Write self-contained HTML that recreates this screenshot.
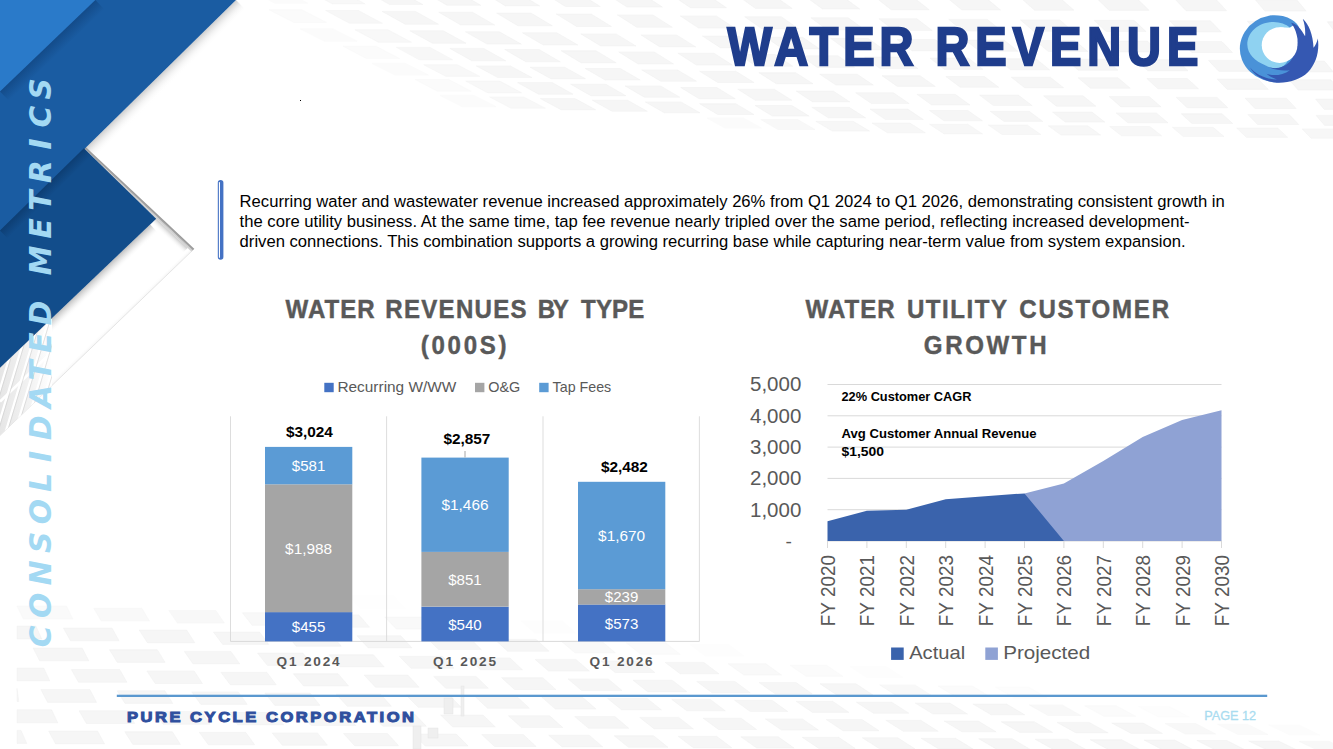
<!DOCTYPE html>
<html lang="en"><head><meta charset="utf-8"><title>Water Revenue</title>
<style>
html,body{margin:0;padding:0;background:#fff;}
body{width:1333px;height:749px;overflow:hidden;position:relative;font-family:'Liberation Sans', sans-serif;}
svg{position:absolute;left:0;top:0;display:block;}
svg text{font-family:'Liberation Sans', sans-serif;}
.para{position:absolute;left:239.6px;top:191.6px;width:1030px;font-size:16.64px;line-height:20.1px;color:#000;white-space:nowrap;margin:0;}
</style></head><body>
<svg width="1333" height="749" viewBox="0 0 1333 749">
<rect width="1333" height="749" fill="#fff"/>
<g fill="#f6f6f6" stroke="#ededed" stroke-width="0.4">
<polygon points="250.0,-9.9 282.8,-9.9 307.8,3.2 275.0,3.2" opacity="0.35"/>
<polygon points="308.2,-9.2 341.0,-9.2 365.2,3.9 332.4,3.9" opacity="0.77"/>
<polygon points="366.4,-8.5 399.6,-8.5 422.9,4.6 389.7,4.6" opacity="1.00"/>
<polygon points="424.6,-7.8 458.4,-7.8 480.8,5.3 447.0,5.3" opacity="1.00"/>
<polygon points="483.9,-7.1 518.2,-7.1 539.7,5.9 505.4,5.9" opacity="1.00"/>
<polygon points="544.8,-6.4 579.7,-6.4 600.3,6.5 565.4,6.5" opacity="1.00"/>
<polygon points="607.5,-5.6 642.9,-5.6 662.5,7.1 627.0,7.1" opacity="1.00"/>
<polygon points="671.8,-4.8 707.9,-4.8 726.5,7.7 690.4,7.7" opacity="1.00"/>
<polygon points="738.0,-4.0 774.6,-4.0 792.2,8.4 755.5,8.4" opacity="1.00"/>
<polygon points="805.9,-3.2 843.2,-3.2 859.7,9.0 822.5,9.0" opacity="1.00"/>
<polygon points="875.8,-2.4 913.7,-2.4 929.2,9.7 891.2,9.7" opacity="1.00"/>
<polygon points="947.6,-1.9 986.2,-1.9 1000.5,10.0 961.9,10.0" opacity="1.00"/>
<polygon points="1021.4,-1.5 1060.6,-1.5 1073.9,10.2 1034.6,10.2" opacity="1.00"/>
<polygon points="1097.2,-1.2 1137.2,-1.2 1149.2,10.4 1109.2,10.4" opacity="1.00"/>
<polygon points="1175.1,-0.8 1215.8,-0.8 1226.6,10.7 1186.0,10.7" opacity="1.00"/>
<polygon points="1255.2,-0.4 1296.6,-0.4 1306.2,11.1 1264.8,11.1" opacity="1.00"/>
<polygon points="1337.5,-0.0 1379.7,-0.0 1388.0,11.5 1345.8,11.5" opacity="1.00"/>
<polygon points="269.0,9.7 301.8,9.7 326.6,22.5 293.8,22.5" opacity="0.40"/>
<polygon points="325.6,10.5 358.4,10.5 382.3,23.3 349.5,23.3" opacity="0.80"/>
<polygon points="382.1,11.4 415.5,11.4 438.5,24.2 405.1,24.2" opacity="1.00"/>
<polygon points="438.7,12.2 472.5,12.2 494.7,25.0 460.8,25.0" opacity="1.00"/>
<polygon points="496.6,13.1 531.1,13.1 552.4,25.8 517.9,25.8" opacity="1.00"/>
<polygon points="556.2,14.0 591.2,14.0 611.5,26.5 576.6,26.5" opacity="1.00"/>
<polygon points="617.4,14.9 652.9,14.9 672.3,27.3 636.8,27.3" opacity="1.00"/>
<polygon points="680.2,15.9 716.3,15.9 734.7,28.1 698.6,28.1" opacity="1.00"/>
<polygon points="744.7,16.8 781.4,16.8 798.8,28.9 762.1,28.9" opacity="1.00"/>
<polygon points="810.9,17.8 848.2,17.8 864.7,29.8 827.3,29.8" opacity="1.00"/>
<polygon points="878.9,18.8 916.9,18.8 932.3,30.6 894.3,30.6" opacity="1.00"/>
<polygon points="948.7,19.4 987.3,19.4 1001.7,31.1 963.1,31.1" opacity="1.00"/>
<polygon points="1020.5,19.9 1059.7,19.9 1072.9,31.3 1033.7,31.3" opacity="1.00"/>
<polygon points="1094.1,20.3 1134.1,20.3 1146.1,31.6 1106.2,31.6" opacity="1.00"/>
<polygon points="1169.7,20.8 1210.4,20.8 1221.3,32.0 1180.7,32.0" opacity="1.00"/>
<polygon points="1247.4,21.2 1288.8,21.2 1298.5,32.5 1257.1,32.5" opacity="1.00"/>
<polygon points="1327.2,21.7 1369.3,21.7 1377.8,33.0 1335.7,33.0" opacity="1.00"/>
<polygon points="300.0,28.8 332.8,28.8 357.1,41.2 324.3,41.2" opacity="0.35"/>
<polygon points="354.9,29.8 388.0,29.8 411.5,42.2 378.4,42.2" opacity="0.74"/>
<polygon points="409.8,30.8 443.4,30.8 466.1,43.2 432.4,43.2" opacity="1.00"/>
<polygon points="465.4,31.8 499.5,31.8 521.3,44.1 487.1,44.1" opacity="1.00"/>
<polygon points="522.4,32.8 557.0,32.8 577.9,45.0 543.2,45.0" opacity="1.00"/>
<polygon points="580.8,33.9 616.1,33.9 636.0,46.0 600.8,46.0" opacity="1.00"/>
<polygon points="640.9,34.9 676.6,34.9 695.7,46.9 659.9,46.9" opacity="1.00"/>
<polygon points="702.4,36.0 738.8,36.0 756.9,47.9 720.6,47.9" opacity="1.00"/>
<polygon points="765.6,37.2 802.6,37.2 819.7,48.9 782.8,48.9" opacity="1.00"/>
<polygon points="830.5,38.3 868.0,38.3 884.1,49.9 846.6,49.9" opacity="1.00"/>
<polygon points="897.0,39.5 935.2,39.5 950.3,50.9 912.2,50.9" opacity="1.00"/>
<polygon points="965.3,40.1 1004.1,40.1 1018.1,51.3 979.4,51.3" opacity="1.00"/>
<polygon points="1035.4,40.6 1074.8,40.6 1087.8,51.6 1048.4,51.6" opacity="1.00"/>
<polygon points="1107.3,41.1 1147.3,41.1 1159.2,52.0 1119.1,52.0" opacity="1.00"/>
<polygon points="1181.0,41.6 1221.8,41.6 1232.5,52.5 1191.8,52.5" opacity="1.00"/>
<polygon points="1256.7,42.2 1298.2,42.2 1307.8,53.1 1266.3,53.1" opacity="1.00"/>
<polygon points="1334.4,42.7 1376.6,42.7 1385.0,53.6 1342.8,53.6" opacity="1.00"/>
<polygon points="343.0,46.2 376.0,46.2 399.7,58.6 366.6,58.6" opacity="0.40"/>
<polygon points="396.3,47.3 429.8,47.3 452.6,59.7 419.1,59.7" opacity="0.78"/>
<polygon points="449.8,48.4 483.8,48.4 505.8,60.8 471.8,60.8" opacity="1.00"/>
<polygon points="504.7,49.5 539.2,49.5 560.3,61.8 525.8,61.8" opacity="1.00"/>
<polygon points="561.0,50.7 596.0,50.7 616.3,62.9 581.3,62.9" opacity="1.00"/>
<polygon points="618.7,51.9 654.2,51.9 673.6,64.0 638.1,64.0" opacity="1.00"/>
<polygon points="677.9,53.2 714.0,53.2 732.5,65.1 696.4,65.1" opacity="1.00"/>
<polygon points="738.5,54.5 775.2,54.5 792.8,66.2 756.1,66.2" opacity="1.00"/>
<polygon points="800.7,55.8 838.0,55.8 854.6,67.4 817.3,67.4" opacity="1.00"/>
<polygon points="864.5,57.1 902.4,57.1 918.0,68.6 880.2,68.6" opacity="1.00"/>
<polygon points="929.9,58.1 968.4,58.1 983.0,69.4 944.5,69.4" opacity="1.00"/>
<polygon points="997.0,58.7 1036.0,58.7 1049.6,69.8 1010.6,69.8" opacity="1.00"/>
<polygon points="1065.8,59.2 1105.4,59.2 1118.0,70.2 1078.3,70.2" opacity="1.00"/>
<polygon points="1136.3,59.8 1176.6,59.8 1188.0,70.7 1147.7,70.7" opacity="1.00"/>
<polygon points="1208.5,60.4 1249.5,60.4 1259.9,71.4 1218.9,71.4" opacity="1.00"/>
<polygon points="1282.7,61.1 1324.4,61.1 1333.5,72.0 1291.9,72.0" opacity="1.00"/>
<polygon points="1358.7,61.7 1401.1,61.7 1409.1,72.6 1366.7,72.6" opacity="1.00"/>
<polygon points="372.0,63.4 405.3,63.4 428.5,75.1 395.2,75.1" opacity="0.35"/>
<polygon points="423.6,64.7 457.4,64.7 479.8,76.4 446.0,76.4" opacity="0.72"/>
<polygon points="476.2,65.9 510.4,65.9 532.0,77.6 497.8,77.6" opacity="1.00"/>
<polygon points="530.0,67.2 564.7,67.2 585.5,78.7 550.8,78.7" opacity="1.00"/>
<polygon points="585.2,68.5 620.4,68.5 640.3,80.0 605.1,80.0" opacity="1.00"/>
<polygon points="641.7,69.9 677.5,69.9 696.5,81.2 660.7,81.2" opacity="1.00"/>
<polygon points="699.6,71.3 735.9,71.3 754.1,82.5 717.7,82.5" opacity="1.00"/>
<polygon points="758.9,72.7 795.8,72.7 813.0,83.7 776.2,83.7" opacity="1.00"/>
<polygon points="819.7,74.2 857.1,74.2 873.4,85.1 836.0,85.1" opacity="1.00"/>
<polygon points="882.0,75.7 920.0,75.7 935.3,86.4 897.3,86.4" opacity="1.00"/>
<polygon points="945.8,76.5 984.4,76.5 998.7,87.2 960.2,87.2" opacity="1.00"/>
<polygon points="1011.2,77.2 1050.3,77.2 1063.7,87.7 1024.5,87.7" opacity="1.00"/>
<polygon points="1078.1,77.8 1117.9,77.8 1130.3,88.2 1090.5,88.2" opacity="1.00"/>
<polygon points="1146.8,78.5 1187.2,78.5 1198.5,88.8 1158.0,88.8" opacity="1.00"/>
<polygon points="1217.1,79.1 1258.1,79.1 1268.3,89.4 1227.3,89.4" opacity="1.00"/>
<polygon points="1289.1,79.8 1330.8,79.8 1339.9,90.1 1298.2,90.1" opacity="1.00"/>
<polygon points="1362.9,80.5 1405.3,80.5 1413.3,90.8 1370.9,90.8" opacity="1.00"/>
<polygon points="415.0,79.5 448.7,79.5 471.2,91.2 437.5,91.2" opacity="0.40"/>
<polygon points="465.7,81.1 499.8,81.1 521.6,92.7 487.4,92.7" opacity="0.76"/>
<polygon points="517.5,82.6 552.2,82.6 573.1,94.2 538.5,94.2" opacity="1.00"/>
<polygon points="570.6,84.2 605.8,84.2 625.9,95.7 590.8,95.7" opacity="1.00"/>
<polygon points="625.0,85.9 660.6,85.9 679.9,97.2 644.3,97.2" opacity="1.00"/>
<polygon points="680.7,87.5 716.8,87.5 735.3,98.7 699.1,98.7" opacity="1.00"/>
<polygon points="737.7,89.2 774.3,89.2 791.9,100.3 755.2,100.3" opacity="1.00"/>
<polygon points="796.0,91.0 833.2,91.0 849.9,101.9 812.7,101.9" opacity="1.00"/>
<polygon points="855.7,92.8 893.5,92.8 909.2,103.6 871.5,103.6" opacity="1.00"/>
<polygon points="916.9,94.3 955.2,94.3 970.0,105.0 931.7,105.0" opacity="1.00"/>
<polygon points="979.5,95.1 1018.3,95.1 1032.2,105.6 993.3,105.6" opacity="1.00"/>
<polygon points="1043.5,95.8 1083.0,95.8 1095.9,106.2 1056.4,106.2" opacity="1.00"/>
<polygon points="1109.2,96.6 1149.2,96.6 1161.1,106.9 1121.0,106.9" opacity="1.00"/>
<polygon points="1176.3,97.4 1217.0,97.4 1227.8,107.7 1187.1,107.7" opacity="1.00"/>
<polygon points="1245.1,98.2 1286.4,98.2 1296.2,108.5 1254.9,108.5" opacity="1.00"/>
<polygon points="1315.5,99.1 1357.5,99.1 1366.2,109.4 1324.2,109.4" opacity="1.00"/>
<polygon points="440.0,95.4 473.9,95.4 496.1,106.7 462.2,106.7" opacity="0.35"/>
<polygon points="489.6,97.0 523.9,97.0 545.3,108.2 511.0,108.2" opacity="0.70"/>
<polygon points="540.3,98.6 575.1,98.6 595.7,109.7 560.9,109.7" opacity="1.00"/>
<polygon points="592.2,100.2 627.5,100.2 647.3,111.3 612.0,111.3" opacity="1.00"/>
<polygon points="645.2,101.9 681.0,101.9 700.0,112.8 664.2,112.8" opacity="1.00"/>
<polygon points="699.5,103.7 735.8,103.7 754.0,114.5 717.7,114.5" opacity="1.00"/>
<polygon points="755.0,105.5 791.9,105.5 809.2,116.1 772.4,116.1" opacity="1.00"/>
<polygon points="811.9,107.3 849.2,107.3 865.6,117.8 828.3,117.8" opacity="1.00"/>
<polygon points="870.0,109.1 907.8,109.1 923.4,119.6 885.5,119.6" opacity="1.00"/>
<polygon points="929.4,110.5 967.9,110.5 982.5,120.8 944.0,120.8" opacity="1.00"/>
<polygon points="990.2,111.3 1029.2,111.3 1042.9,121.4 1003.9,121.4" opacity="1.00"/>
<polygon points="1052.5,112.1 1092.0,112.1 1104.8,122.1 1065.2,122.1" opacity="1.00"/>
<polygon points="1116.1,112.9 1156.3,112.9 1168.0,122.8 1127.9,122.8" opacity="1.00"/>
<polygon points="1181.2,113.7 1222.0,113.7 1232.7,123.6 1192.0,123.6" opacity="1.00"/>
<polygon points="1247.8,114.6 1289.2,114.6 1298.9,124.5 1257.6,124.5" opacity="1.00"/>
<polygon points="1316.0,115.4 1358.0,115.4 1366.6,125.4 1324.6,125.4" opacity="1.00"/>
<polygon points="707.0,118.0 743.4,118.0 761.4,128.0 725.0,128.0" opacity="0.34"/>
<polygon points="760.8,119.6 797.7,119.6 814.9,129.5 778.0,129.5" opacity="0.67"/>
<polygon points="815.8,121.3 853.2,121.3 869.6,131.1 832.2,131.1" opacity="0.85"/>
<polygon points="872.0,123.1 909.9,123.1 925.4,132.8 887.5,132.8" opacity="0.85"/>
<polygon points="929.5,124.3 967.9,124.3 982.5,133.9 944.1,133.9" opacity="0.85"/>
<polygon points="988.2,125.0 1027.2,125.0 1040.9,134.5 1002.0,134.5" opacity="0.85"/>
<polygon points="1048.3,125.8 1087.8,125.8 1100.6,135.1 1061.1,135.1" opacity="0.85"/>
<polygon points="1109.7,126.5 1149.8,126.5 1161.6,135.8 1121.5,135.8" opacity="0.85"/>
<polygon points="1172.4,127.3 1213.1,127.3 1224.0,136.6 1183.3,136.6" opacity="0.85"/>
<polygon points="1236.6,128.1 1277.8,128.1 1287.7,137.4 1246.5,137.4" opacity="0.85"/>
<polygon points="1302.1,128.9 1344.0,128.9 1352.9,138.2 1311.0,138.2" opacity="0.85"/>
<polygon points="1369.1,129.8 1411.6,129.8 1419.5,139.0 1377.0,139.0" opacity="0.85"/>
<polygon points="278.6,594.0 323.7,594.0 333.8,606.3 288.8,606.3" opacity="0.09"/>
<polygon points="349.8,596.4 393.7,596.4 404.8,608.5 360.9,608.5" opacity="0.08"/>
<polygon points="17.0,606.0 66.4,606.0 72.8,618.9 23.4,618.9" opacity="0.51"/>
<polygon points="93.8,608.3 141.9,608.3 149.4,621.0 101.3,621.0" opacity="0.60"/>
<polygon points="168.9,610.6 215.8,610.6 224.4,623.1 177.5,623.1" opacity="0.68"/>
<polygon points="242.4,612.8 288.1,612.8 297.7,625.2 252.1,625.2" opacity="0.76"/>
<polygon points="314.4,614.9 358.9,614.9 369.5,627.2 325.0,627.2" opacity="0.83"/>
<polygon points="384.8,617.0 428.2,617.0 439.7,629.1 396.4,629.1" opacity="0.64"/>
<polygon points="453.8,619.1 496.0,619.1 508.4,631.0 466.3,631.0" opacity="0.39"/>
<polygon points="521.3,621.1 562.3,621.1 575.6,632.9 534.6,632.9" opacity="0.13"/>
<polygon points="17.0,626.0 35.9,626.0 41.8,639.0 17.0,639.0" opacity="1.00"/>
<polygon points="63.4,628.0 112.0,628.0 119.1,640.8 70.5,640.8" opacity="1.00"/>
<polygon points="139.2,630.0 186.6,630.0 194.8,642.7 147.4,642.7" opacity="1.00"/>
<polygon points="213.4,632.0 259.5,632.0 268.8,644.4 222.6,644.4" opacity="1.00"/>
<polygon points="286.0,633.9 330.9,633.9 341.2,646.2 296.2,646.2" opacity="1.00"/>
<polygon points="357.0,635.8 400.8,635.8 412.0,647.9 368.2,647.9" opacity="1.00"/>
<polygon points="426.5,637.6 469.2,637.6 481.3,649.6 438.7,649.6" opacity="1.00"/>
<polygon points="494.6,639.4 536.1,639.4 549.1,651.2 507.6,651.2" opacity="0.91"/>
<polygon points="561.2,641.2 601.6,641.2 615.4,652.8 575.0,652.8" opacity="0.66"/>
<polygon points="626.4,642.9 665.7,642.9 680.3,654.4 641.0,654.4" opacity="0.40"/>
<polygon points="690.2,644.6 728.5,644.6 743.8,656.0 705.5,656.0" opacity="0.15"/>
<polygon points="33.1,648.0 82.2,648.0 88.8,660.8 39.7,660.8" opacity="1.00"/>
<polygon points="109.5,649.7 157.3,649.7 165.1,662.4 117.3,662.4" opacity="1.00"/>
<polygon points="184.3,651.4 230.9,651.4 239.8,663.9 193.1,663.9" opacity="1.00"/>
<polygon points="257.5,653.1 302.9,653.1 312.8,665.4 267.4,665.4" opacity="1.00"/>
<polygon points="329.2,654.7 373.4,654.7 384.2,666.9 340.0,666.9" opacity="1.00"/>
<polygon points="399.3,656.3 442.4,656.3 454.1,668.3 411.1,668.3" opacity="1.00"/>
<polygon points="467.9,657.9 509.9,657.9 522.5,669.8 480.6,669.8" opacity="1.00"/>
<polygon points="535.1,659.4 575.9,659.4 589.4,671.1 548.6,671.1" opacity="1.00"/>
<polygon points="600.9,660.9 640.6,660.9 654.9,672.5 615.1,672.5" opacity="1.00"/>
<polygon points="665.2,662.4 703.9,662.4 718.9,673.8 680.2,673.8" opacity="0.91"/>
<polygon points="728.2,663.8 765.9,663.8 781.6,675.1 743.9,675.1" opacity="0.66"/>
<polygon points="789.9,665.2 826.5,665.2 842.9,676.4 806.3,676.4" opacity="0.41"/>
<polygon points="850.2,666.6 885.8,666.6 902.9,677.6 867.2,677.6" opacity="0.17"/>
<polygon points="17.0,668.0 43.7,668.0 49.8,680.9 17.0,680.9" opacity="1.00"/>
<polygon points="71.3,669.5 119.7,669.5 126.9,682.2 78.5,682.2" opacity="1.00"/>
<polygon points="146.9,670.9 194.1,670.9 202.4,683.5 155.2,683.5" opacity="1.00"/>
<polygon points="220.9,672.3 266.9,672.3 276.2,684.7 230.2,684.7" opacity="1.00"/>
<polygon points="293.3,673.7 338.1,673.7 348.5,686.0 303.7,686.0" opacity="1.00"/>
<polygon points="364.2,675.1 407.8,675.1 419.1,687.2 375.5,687.2" opacity="1.00"/>
<polygon points="433.6,676.4 476.1,676.4 488.3,688.3 445.8,688.3" opacity="1.00"/>
<polygon points="501.5,677.7 542.9,677.7 555.9,689.5 514.5,689.5" opacity="1.00"/>
<polygon points="568.0,678.9 608.2,678.9 622.1,690.6 581.8,690.6" opacity="1.00"/>
<polygon points="633.0,680.2 672.2,680.2 686.9,691.7 647.7,691.7" opacity="1.00"/>
<polygon points="696.7,681.4 734.9,681.4 750.2,692.8 712.1,692.8" opacity="1.00"/>
<polygon points="759.0,682.6 796.2,682.6 812.2,693.8 775.1,693.8" opacity="1.00"/>
<polygon points="820.0,683.8 856.1,683.8 872.9,694.9 836.7,694.9" opacity="0.93"/>
<polygon points="879.7,684.9 914.9,684.9 932.2,695.9 897.0,695.9" opacity="0.68"/>
<polygon points="938.1,686.0 972.3,686.0 990.3,696.9 956.1,696.9" opacity="0.44"/>
<polygon points="995.3,687.1 1028.6,687.1 1047.1,697.8 1013.8,697.8" opacity="0.20"/>
<polygon points="17.0,688.4 17.0,688.4 18.8,701.4 17.0,701.4" opacity="1.00"/>
<polygon points="40.9,689.6 89.9,689.6 96.6,702.4 47.7,702.4" opacity="1.00"/>
<polygon points="117.2,690.8 164.9,690.8 172.8,703.4 125.0,703.4" opacity="1.00"/>
<polygon points="191.8,691.9 238.3,691.9 247.2,704.4 200.8,704.4" opacity="1.00"/>
<polygon points="264.9,693.1 310.1,693.1 320.1,705.4 274.8,705.4" opacity="1.00"/>
<polygon points="336.3,694.2 380.5,694.2 391.4,706.3 347.3,706.3" opacity="1.00"/>
<polygon points="406.3,695.2 449.3,695.2 461.1,707.3 418.2,707.3" opacity="1.00"/>
<polygon points="474.8,696.3 516.6,696.3 529.4,708.2 487.5,708.2" opacity="1.00"/>
<polygon points="541.9,697.3 582.6,697.3 596.1,709.1 555.4,709.1" opacity="1.00"/>
<polygon points="607.5,698.4 647.1,698.4 661.4,709.9 621.8,709.9" opacity="1.00"/>
<polygon points="671.7,699.4 710.3,699.4 725.3,710.8 686.8,710.8" opacity="1.00"/>
<polygon points="734.5,700.3 772.1,700.3 787.9,711.6 750.3,711.6" opacity="1.00"/>
<polygon points="796.0,701.3 832.6,701.3 849.0,712.4 812.5,712.4" opacity="1.00"/>
<polygon points="856.3,702.2 891.8,702.2 908.9,713.2 873.4,713.2" opacity="1.00"/>
<polygon points="915.2,703.1 949.8,703.1 967.5,714.0 932.9,714.0" opacity="1.00"/>
<polygon points="972.9,704.0 1006.5,704.0 1024.8,714.8 991.1,714.8" opacity="0.92"/>
<polygon points="1029.3,704.9 1062.0,704.9 1080.8,715.5 1048.1,715.5" opacity="0.67"/>
<polygon points="1084.6,705.8 1116.3,705.8 1135.7,716.3 1103.9,716.3" opacity="0.44"/>
<polygon points="1138.6,706.6 1169.5,706.6 1189.3,717.0 1158.4,717.0" opacity="0.21"/>
<polygon points="17.0,709.8 51.6,709.8 57.8,722.8 17.0,722.8" opacity="1.00"/>
<polygon points="79.1,710.8 127.4,710.8 134.7,723.5 86.4,723.5" opacity="1.00"/>
<polygon points="154.5,711.6 201.6,711.6 210.0,724.2 162.9,724.2" opacity="1.00"/>
<polygon points="228.4,712.5 274.3,712.5 283.7,724.9 237.8,724.9" opacity="1.00"/>
<polygon points="300.6,713.4 345.3,713.4 355.8,725.6 311.1,725.6" opacity="1.00"/>
<polygon points="371.4,714.2 414.9,714.2 426.3,726.3 382.8,726.3" opacity="1.00"/>
<polygon points="440.6,715.0 483.0,715.0 495.3,727.0 452.9,727.0" opacity="1.00"/>
<polygon points="508.4,715.8 549.6,715.8 562.8,727.6 521.5,727.6" opacity="1.00"/>
<polygon points="574.7,716.6 614.9,716.6 628.8,728.3 588.6,728.3" opacity="1.00"/>
<polygon points="639.6,717.4 678.7,717.4 693.4,728.9 654.3,728.9" opacity="1.00"/>
<polygon points="703.1,718.2 741.2,718.2 756.6,729.5 718.6,729.5" opacity="1.00"/>
<polygon points="765.3,718.9 802.4,718.9 818.5,730.1 781.5,730.1" opacity="1.00"/>
<polygon points="826.2,719.6 862.2,719.6 879.0,730.7 843.0,730.7" opacity="1.00"/>
<polygon points="885.8,720.3 920.8,720.3 938.2,731.3 903.2,731.3" opacity="1.00"/>
<polygon points="944.1,721.0 978.2,721.0 996.1,731.8 962.0,731.8" opacity="1.00"/>
<polygon points="1001.1,721.7 1034.3,721.7 1052.8,732.4 1019.7,732.4" opacity="1.00"/>
<polygon points="1057.0,722.4 1089.2,722.4 1108.3,732.9 1076.0,732.9" opacity="1.00"/>
<polygon points="1111.6,723.0 1143.0,723.0 1162.5,733.4 1131.2,733.4" opacity="0.92"/>
<polygon points="1165.1,723.6 1195.6,723.6 1215.6,734.0 1185.2,734.0" opacity="0.69"/>
<polygon points="1217.5,724.3 1247.5,724.3 1268.0,734.5 1238.0,734.5" opacity="0.46"/>
<polygon points="1268.8,724.9 1298.8,724.9 1319.7,735.0 1289.7,735.0" opacity="0.23"/>
<polygon points="17.0,730.4 21.1,730.4 26.8,743.4 17.0,743.4" opacity="1.00"/>
<polygon points="48.7,731.1 97.6,731.1 104.5,743.9 55.6,743.9" opacity="1.00"/>
<polygon points="124.8,731.7 172.4,731.7 180.4,744.4 132.8,744.4" opacity="1.00"/>
<polygon points="199.3,732.3 245.7,732.3 254.7,744.8 208.4,744.8" opacity="1.00"/>
<polygon points="272.2,732.9 317.4,732.9 327.4,745.2 282.3,745.2" opacity="1.00"/>
<polygon points="343.5,733.5 387.5,733.5 398.6,745.7 354.6,745.7" opacity="1.00"/>
<polygon points="413.4,734.1 456.2,734.1 468.1,746.1 425.3,746.1" opacity="1.00"/>
<polygon points="481.7,734.6 523.4,734.6 536.2,746.5 494.5,746.5" opacity="1.00"/>
<polygon points="548.6,735.2 589.2,735.2 602.8,746.9 562.2,746.9" opacity="1.00"/>
<polygon points="614.1,735.7 653.6,735.7 668.0,747.3 628.5,747.3" opacity="1.00"/>
<polygon points="678.1,736.3 716.6,736.3 731.8,747.7 693.3,747.7" opacity="1.00"/>
<polygon points="740.8,736.8 778.3,736.8 794.2,748.1 756.7,748.1" opacity="1.00"/>
<polygon points="802.2,737.3 838.7,737.3 855.2,748.4 818.8,748.4" opacity="1.00"/>
<polygon points="862.3,737.8 897.8,737.8 914.9,748.8 879.5,748.8" opacity="1.00"/>
<polygon points="921.1,738.3 955.6,738.3 973.3,749.1 938.9,749.1" opacity="1.00"/>
<polygon points="978.7,738.7 1012.2,738.7 1030.5,749.5 997.0,749.5" opacity="1.00"/>
<polygon points="1035.0,739.2 1067.6,739.2 1086.5,749.8 1053.9,749.8" opacity="1.00"/>
<polygon points="1090.1,739.7 1121.8,739.7 1141.2,750.2 1109.5,750.2" opacity="1.00"/>
<polygon points="1144.1,740.1 1174.9,740.1 1194.7,750.5 1163.9,750.5" opacity="1.00"/>
<polygon points="1196.9,740.5 1226.9,740.5 1247.2,750.8 1217.2,750.8" opacity="1.00"/>
<polygon points="1248.6,741.0 1278.6,741.0 1299.3,751.1 1269.3,751.1" opacity="0.91"/>
<polygon points="1299.2,741.4 1329.2,741.4 1350.3,751.4 1320.3,751.4" opacity="0.68"/>
<polygon points="1349.2,741.8 1379.2,741.8 1400.7,751.7 1370.7,751.7" opacity="0.45"/>
</g>
<defs><linearGradient id="sh3" gradientUnits="userSpaceOnUse" x1="236.00" y1="0.00" x2="245.81" y2="9.98"><stop offset="0" stop-color="#8a8a8a" stop-opacity="0.42"/><stop offset="0.5" stop-color="#b0b0b0" stop-opacity="0.14"/><stop offset="1" stop-color="#ffffff" stop-opacity="0"/></linearGradient><linearGradient id="sh5" gradientUnits="userSpaceOnUse" x1="194.20" y1="248.80" x2="191.43" y2="245.92"><stop offset="0" stop-color="#cccccc" stop-opacity="0.22"/><stop offset="1" stop-color="#ffffff" stop-opacity="0"/></linearGradient><linearGradient id="sh1" gradientUnits="userSpaceOnUse" x1="85.40" y1="146.70" x2="82.66" y2="149.62"><stop offset="0" stop-color="#949494" stop-opacity="1"/><stop offset="0.45" stop-color="#a8a8a8" stop-opacity="1"/><stop offset="0.55" stop-color="#cbcbcb" stop-opacity="1"/><stop offset="1" stop-color="#d8d8d8" stop-opacity="1"/></linearGradient><linearGradient id="sh4" gradientUnits="userSpaceOnUse" x1="155.47" y1="218.02" x2="150.69" y2="223.13"><stop offset="0" stop-color="#bdbdbd" stop-opacity="0.8"/><stop offset="1" stop-color="#ffffff" stop-opacity="0"/></linearGradient><linearGradient id="sh2" gradientUnits="userSpaceOnUse" x1="150.20" y1="224.40" x2="157.79" y2="232.36"><stop offset="0" stop-color="#8c8c8c" stop-opacity="0.55"/><stop offset="0.5" stop-color="#cfcfcf" stop-opacity="0.4"/><stop offset="1" stop-color="#ffffff" stop-opacity="0"/></linearGradient></defs>
<polygon points="85.4,146.7 194.2,248.8 0.0,435.5 0.0,231.0" fill="#fff"/>
<polygon points="236.0,0.0 0.0,232.0 9.8,242.0 245.8,10.0" fill="url(#sh3)"/>
<line x1="194.2" y1="248.8" x2="0" y2="435.5" stroke="#e2e2e2" stroke-width="0.8"/>
<polygon points="194.2,248.8 0.0,435.5 -2.8,432.6 191.4,245.9" fill="url(#sh5)"/>
<polygon points="85.4,146.7 194.2,248.8 191.5,251.7 82.7,149.6" fill="url(#sh1)"/>
<polygon points="155.5,218.0 187.5,248.0 182.7,253.1 150.7,223.1" fill="url(#sh4)"/>
<polygon points="150.2,224.4 0.0,367.7 7.6,375.7 157.8,232.4" fill="url(#sh2)"/>
<g clip-path="url(#tlclip)">
<clipPath id="tlclip"><polygon points="0,367.7 52,318 52,385.5 0,435.5"/></clipPath>
<defs><linearGradient id="tl" gradientUnits="userSpaceOnUse" x1="0" y1="0" x2="52" y2="0"><stop offset="0" stop-color="#e6e6e6"/><stop offset="0.55" stop-color="#f2f2f2"/><stop offset="1" stop-color="#ffffff"/></linearGradient></defs>
<polygon points="0.0,367.7 52.0,318.0 52.0,385.5 0.0,435.5" fill="url(#tl)" stroke="none"/>
<line x1="0" y1="401.5" x2="52" y2="351.7" stroke="#fff" stroke-width="2.6"/>
<line x1="-24.6" y1="440" x2="11.4" y2="320" stroke="#fff" stroke-width="2.4"/>
<line x1="-23.0" y1="440" x2="13.0" y2="320" stroke="#c4c4c4" stroke-width="0.5"/>
<line x1="-15.3" y1="440" x2="20.7" y2="320" stroke="#fff" stroke-width="2.4"/>
<line x1="-13.7" y1="440" x2="22.3" y2="320" stroke="#c4c4c4" stroke-width="0.5"/>
<line x1="-6.0" y1="440" x2="30.0" y2="320" stroke="#fff" stroke-width="2.4"/>
<line x1="-4.4" y1="440" x2="31.6" y2="320" stroke="#c4c4c4" stroke-width="0.5"/>
<line x1="3.3" y1="440" x2="39.3" y2="320" stroke="#fff" stroke-width="2.4"/>
<line x1="4.9" y1="440" x2="40.9" y2="320" stroke="#c4c4c4" stroke-width="0.5"/>
<line x1="12.6" y1="440" x2="48.6" y2="320" stroke="#fff" stroke-width="2.4"/>
<line x1="14.2" y1="440" x2="50.2" y2="320" stroke="#c4c4c4" stroke-width="0.5"/>
<line x1="21.9" y1="440" x2="57.9" y2="320" stroke="#fff" stroke-width="2.4"/>
<line x1="23.5" y1="440" x2="59.5" y2="320" stroke="#c4c4c4" stroke-width="0.5"/>
<line x1="31.2" y1="440" x2="67.2" y2="320" stroke="#fff" stroke-width="2.4"/>
<line x1="32.8" y1="440" x2="68.8" y2="320" stroke="#c4c4c4" stroke-width="0.5"/>
<line x1="40.5" y1="440" x2="76.5" y2="320" stroke="#fff" stroke-width="2.4"/>
<line x1="42.1" y1="440" x2="78.1" y2="320" stroke="#c4c4c4" stroke-width="0.5"/>
<line x1="49.8" y1="440" x2="85.8" y2="320" stroke="#fff" stroke-width="2.4"/>
<line x1="51.4" y1="440" x2="87.4" y2="320" stroke="#c4c4c4" stroke-width="0.5"/>
<line x1="59.1" y1="440" x2="95.1" y2="320" stroke="#fff" stroke-width="2.4"/>
<line x1="60.7" y1="440" x2="96.7" y2="320" stroke="#c4c4c4" stroke-width="0.5"/>
</g>
<defs><linearGradient id="sb2" gradientUnits="userSpaceOnUse" x1="83.90" y1="148.20" x2="91.61" y2="156.05"><stop offset="0" stop-color="#06264d" stop-opacity="0.38"/><stop offset="1" stop-color="#06264d" stop-opacity="0"/></linearGradient><linearGradient id="sb1" gradientUnits="userSpaceOnUse" x1="95.40" y1="0.00" x2="104.39" y2="9.39"><stop offset="0" stop-color="#082d5c" stop-opacity="0.36"/><stop offset="1" stop-color="#082d5c" stop-opacity="0"/></linearGradient></defs>
<polygon points="0.0,0.0 236.0,0.0 0.0,232.0" fill="#1a5ca2"/>
<polygon points="83.9,148.2 156.2,218.7 0.0,367.7 0.0,230.6" fill="#124d8b"/>
<polygon points="83.9,148.2 0.0,230.6 7.7,238.4 91.6,156.0" fill="url(#sb2)"/>
<polygon points="0.0,0.0 95.4,0.0 0.0,91.4" fill="#2a7ac9"/>
<polygon points="95.4,0.0 0.0,91.4 9.0,100.8 104.4,9.4" fill="url(#sb1)"/>
<text transform="translate(51.3,647.2) rotate(-90)" style="font-family:'DejaVu Sans','Liberation Sans', sans-serif;font-style:italic;font-weight:bold" font-size="29.7" fill="#a3d9f3" letter-spacing="7.4" dx="0 0 0 0 0 0 3.4 3.4 0 0 0 0 0 0 0 0 0 3.4 3.4 0">CONSOLIDATED METRICS</text>
<g font-size="53.3" font-weight="bold" fill="#1f3d8c" stroke="#1f3d8c" stroke-width="2.4" stroke-linejoin="miter"><text transform="translate(727.5,65.3) scale(0.88,1)" textLength="211.1" lengthAdjust="spacing">WATER</text><text transform="translate(935.5,65.3) scale(0.88,1)" textLength="298.6" lengthAdjust="spacing">REVENUE</text></g>
<g transform="translate(1234,8) scale(0.10676)">
<path d="M607,178 C585,128 515,88 457,75.5 C420,69 380,66 337,70.3 A345,315 0 1 0 560,659 Z" fill="#4a92d8"/>
<path d="M125,345 C125,220 235,130 372,130 C430,132 490,150 525,184 L500,260 C520,350 510,450 500,500 C470,550 420,566 400,565 C360,566 330,560 292,537 C200,500 125,430 125,345 Z" fill="#8fd2f1"/>
<path d="M535,137 C585,144 630,195 666,264 C670,200 662,150 644,101 C700,150 740,250 745,373 C762,350 778,320 785,285 C802,400 772,520 692,602 C622,672 500,706 400,699 C300,692 196,640 150,557 C200,620 300,668 402,670 C370,660 330,640 304,615 C360,640 460,630 523,582 C450,590 360,580 292,537 C330,560 370,566 400,563 C460,555 520,520 545,470 C570,420 575,340 570,260 C565,200 555,165 535,137 Z" fill="#3558b2"/>
<circle cx="427" cy="348" r="167" fill="#fff"/>
<path d="M427,181 L523,184 C535,175 545,168 552,166 C570,190 588,240 595,290 C597,330 590,370 578,400 L480,400 Z" fill="#fff"/>
</g>
<rect x="300" y="100" width="1" height="1" fill="#000"/>
<g fill="#efefef" stroke="#e0e0e0" stroke-width="0.4"><rect x="444" y="698" width="9" height="16"/><rect x="461" y="686" width="3" height="30"/><rect x="413" y="726" width="8" height="23"/><rect x="428" y="728" width="10" height="10"/></g>
<rect x="217.8" y="180" width="5.6" height="79.8" rx="2.8" fill="#4472c4"/>
<rect x="218.9" y="182" width="1.1" height="75.8" rx="0.5" fill="#fff"/>
<line x1="230.5" y1="416.3" x2="230.5" y2="641.4" stroke="#d9d9d9" stroke-width="0.9"/>
<line x1="386.6" y1="416.3" x2="386.6" y2="641.4" stroke="#d9d9d9" stroke-width="0.9"/>
<line x1="543.0" y1="416.3" x2="543.0" y2="641.4" stroke="#d9d9d9" stroke-width="0.9"/>
<line x1="699.4" y1="416.3" x2="699.4" y2="641.4" stroke="#d9d9d9" stroke-width="0.9"/>
<line x1="230.5" y1="641.4" x2="699.4" y2="641.4" stroke="#d9d9d9" stroke-width="1"/>
<rect x="265.0" y="612.1" width="87.3" height="29.3" fill="#4472c4"/>
<text x="308.6" y="632.3" text-anchor="middle" font-size="15.5" fill="#fff" textLength="33.5" lengthAdjust="spacingAndGlyphs">$455</text>
<rect x="265.0" y="484.3" width="87.3" height="127.9" fill="#a5a5a5"/>
<text x="308.6" y="553.7" text-anchor="middle" font-size="15.5" fill="#fff" textLength="47" lengthAdjust="spacingAndGlyphs">$1,988</text>
<rect x="265.0" y="446.9" width="87.3" height="37.4" fill="#5b9bd5"/>
<text x="308.6" y="471.1" text-anchor="middle" font-size="15.5" fill="#fff" textLength="33.5" lengthAdjust="spacingAndGlyphs">$581</text>
<text x="309.4" y="436.5" text-anchor="middle" font-size="14.8" font-weight="bold" fill="#000" textLength="47" lengthAdjust="spacingAndGlyphs">$3,024</text>
<text x="308.1" y="666.3" text-anchor="middle" font-size="13.6" font-weight="bold" fill="#595959" textLength="63" lengthAdjust="spacing">Q1 2024</text>
<rect x="421.4" y="606.7" width="87.3" height="34.7" fill="#4472c4"/>
<text x="465.0" y="629.5" text-anchor="middle" font-size="15.5" fill="#fff" textLength="33.5" lengthAdjust="spacingAndGlyphs">$540</text>
<rect x="421.4" y="551.9" width="87.3" height="54.7" fill="#a5a5a5"/>
<text x="465.0" y="584.8" text-anchor="middle" font-size="15.5" fill="#fff" textLength="33.5" lengthAdjust="spacingAndGlyphs">$851</text>
<rect x="421.4" y="457.6" width="87.3" height="94.3" fill="#5b9bd5"/>
<text x="465.0" y="510.3" text-anchor="middle" font-size="15.5" fill="#fff" textLength="47" lengthAdjust="spacingAndGlyphs">$1,466</text>
<text x="466.9" y="444.4" text-anchor="middle" font-size="14.8" font-weight="bold" fill="#000" textLength="47" lengthAdjust="spacingAndGlyphs">$2,857</text>
<text x="464.5" y="666.3" text-anchor="middle" font-size="13.6" font-weight="bold" fill="#595959" textLength="63" lengthAdjust="spacing">Q1 2025</text>
<rect x="578.0" y="604.5" width="87.3" height="36.9" fill="#4472c4"/>
<text x="621.6" y="628.5" text-anchor="middle" font-size="15.5" fill="#fff" textLength="33.5" lengthAdjust="spacingAndGlyphs">$573</text>
<rect x="578.0" y="589.2" width="87.3" height="15.4" fill="#a5a5a5"/>
<text x="621.6" y="602.4" text-anchor="middle" font-size="15.5" fill="#fff" textLength="33.5" lengthAdjust="spacingAndGlyphs">$239</text>
<rect x="578.0" y="481.8" width="87.3" height="107.4" fill="#5b9bd5"/>
<text x="621.6" y="541.0" text-anchor="middle" font-size="15.5" fill="#fff" textLength="47" lengthAdjust="spacingAndGlyphs">$1,670</text>
<text x="624.4" y="472.0" text-anchor="middle" font-size="14.8" font-weight="bold" fill="#000" textLength="47" lengthAdjust="spacingAndGlyphs">$2,482</text>
<text x="621.1" y="666.3" text-anchor="middle" font-size="13.6" font-weight="bold" fill="#595959" textLength="63" lengthAdjust="spacing">Q1 2026</text>
<line x1="465" y1="451" x2="465" y2="457.5" stroke="#a6a6a6" stroke-width="1"/>
<text transform="translate(285.50,317.6) scale(0.92,1)" font-size="26.2" font-weight="bold" fill="#595959" stroke="#595959" stroke-width="0.45" textLength="96.96" lengthAdjust="spacing">WATER</text>
<text transform="translate(385.30,317.6) scale(0.92,1)" font-size="26.2" font-weight="bold" fill="#595959" stroke="#595959" stroke-width="0.45" textLength="153.59" lengthAdjust="spacing">REVENUES</text>
<text transform="translate(537.80,317.6) scale(0.92,1)" font-size="26.2" font-weight="bold" fill="#595959" stroke="#595959" stroke-width="0.45" textLength="33.80" lengthAdjust="spacing">BY</text>
<text transform="translate(581.10,317.6) scale(0.92,1)" font-size="26.2" font-weight="bold" fill="#595959" stroke="#595959" stroke-width="0.45" textLength="68.70" lengthAdjust="spacing">TYPE</text>
<text transform="translate(420.70,354.3) scale(0.92,1)" font-size="26.2" font-weight="bold" fill="#595959" stroke="#595959" stroke-width="0.45" textLength="93.37" lengthAdjust="spacing">(000S)</text>
<rect x="324.3" y="382.8" width="9.4" height="9.4" fill="#4472c4"/>
<text x="337.4" y="392.2" font-size="14.8" fill="#595959" textLength="119" lengthAdjust="spacingAndGlyphs">Recurring W/WW</text>
<rect x="475.0" y="382.8" width="9.4" height="9.4" fill="#a5a5a5"/>
<text x="488.3" y="392.2" font-size="14.8" fill="#595959" textLength="32" lengthAdjust="spacingAndGlyphs">O&amp;G</text>
<rect x="539.2" y="382.8" width="9.4" height="9.4" fill="#5b9bd5"/>
<text x="552.6" y="392.2" font-size="14.8" fill="#595959" textLength="58.6" lengthAdjust="spacingAndGlyphs">Tap Fees</text>
<line x1="827.5" y1="541.0" x2="1221.5" y2="541.0" stroke="#d9d9d9" stroke-width="1"/>
<line x1="827.5" y1="509.7" x2="1221.5" y2="509.7" stroke="#d9d9d9" stroke-width="1"/>
<text x="801.3" y="516.5" text-anchor="end" font-size="19.6" fill="#595959" textLength="51.3" lengthAdjust="spacingAndGlyphs">1,000</text>
<line x1="827.5" y1="478.4" x2="1221.5" y2="478.4" stroke="#d9d9d9" stroke-width="1"/>
<text x="801.3" y="485.2" text-anchor="end" font-size="19.6" fill="#595959" textLength="51.3" lengthAdjust="spacingAndGlyphs">2,000</text>
<line x1="827.5" y1="447.1" x2="1221.5" y2="447.1" stroke="#d9d9d9" stroke-width="1"/>
<text x="801.3" y="453.9" text-anchor="end" font-size="19.6" fill="#595959" textLength="51.3" lengthAdjust="spacingAndGlyphs">3,000</text>
<line x1="827.5" y1="415.8" x2="1221.5" y2="415.8" stroke="#d9d9d9" stroke-width="1"/>
<text x="801.3" y="422.6" text-anchor="end" font-size="19.6" fill="#595959" textLength="51.3" lengthAdjust="spacingAndGlyphs">4,000</text>
<line x1="827.5" y1="384.5" x2="1221.5" y2="384.5" stroke="#d9d9d9" stroke-width="1"/>
<text x="801.3" y="391.3" text-anchor="end" font-size="19.6" fill="#595959" textLength="51.3" lengthAdjust="spacingAndGlyphs">5,000</text>
<text x="788.6" y="548.0" text-anchor="middle" font-size="19.2" fill="#595959">-</text>
<polygon points="1024.5,541.0 1024.5,493.4 1063.9,483.4 1103.3,461.0 1142.7,437.0 1182.1,420.1 1221.5,410.2 1221.5,541.0" fill="#8fa2d4"/>
<polygon points="827.5,541.0 827.5,521.2 866.9,510.8 906.3,509.8 945.7,499.2 985.1,496.2 1024.5,493.4 1063.9,541.0 1063.9,541.0" fill="#3a63ac"/>
<line x1="827.5" y1="541.0" x2="827.5" y2="548.0" stroke="#d9d9d9" stroke-width="1"/>
<text transform="translate(834.9,626.2) rotate(-90)" font-size="20.3" fill="#595959" textLength="71.2" lengthAdjust="spacingAndGlyphs">FY 2020</text>
<line x1="866.9" y1="541.0" x2="866.9" y2="548.0" stroke="#d9d9d9" stroke-width="1"/>
<text transform="translate(874.3,626.2) rotate(-90)" font-size="20.3" fill="#595959" textLength="71.2" lengthAdjust="spacingAndGlyphs">FY 2021</text>
<line x1="906.3" y1="541.0" x2="906.3" y2="548.0" stroke="#d9d9d9" stroke-width="1"/>
<text transform="translate(913.7,626.2) rotate(-90)" font-size="20.3" fill="#595959" textLength="71.2" lengthAdjust="spacingAndGlyphs">FY 2022</text>
<line x1="945.7" y1="541.0" x2="945.7" y2="548.0" stroke="#d9d9d9" stroke-width="1"/>
<text transform="translate(953.1,626.2) rotate(-90)" font-size="20.3" fill="#595959" textLength="71.2" lengthAdjust="spacingAndGlyphs">FY 2023</text>
<line x1="985.1" y1="541.0" x2="985.1" y2="548.0" stroke="#d9d9d9" stroke-width="1"/>
<text transform="translate(992.5,626.2) rotate(-90)" font-size="20.3" fill="#595959" textLength="71.2" lengthAdjust="spacingAndGlyphs">FY 2024</text>
<line x1="1024.5" y1="541.0" x2="1024.5" y2="548.0" stroke="#d9d9d9" stroke-width="1"/>
<text transform="translate(1031.9,626.2) rotate(-90)" font-size="20.3" fill="#595959" textLength="71.2" lengthAdjust="spacingAndGlyphs">FY 2025</text>
<line x1="1063.9" y1="541.0" x2="1063.9" y2="548.0" stroke="#d9d9d9" stroke-width="1"/>
<text transform="translate(1071.3,626.2) rotate(-90)" font-size="20.3" fill="#595959" textLength="71.2" lengthAdjust="spacingAndGlyphs">FY 2026</text>
<line x1="1103.3" y1="541.0" x2="1103.3" y2="548.0" stroke="#d9d9d9" stroke-width="1"/>
<text transform="translate(1110.7,626.2) rotate(-90)" font-size="20.3" fill="#595959" textLength="71.2" lengthAdjust="spacingAndGlyphs">FY 2027</text>
<line x1="1142.7" y1="541.0" x2="1142.7" y2="548.0" stroke="#d9d9d9" stroke-width="1"/>
<text transform="translate(1150.1,626.2) rotate(-90)" font-size="20.3" fill="#595959" textLength="71.2" lengthAdjust="spacingAndGlyphs">FY 2028</text>
<line x1="1182.1" y1="541.0" x2="1182.1" y2="548.0" stroke="#d9d9d9" stroke-width="1"/>
<text transform="translate(1189.5,626.2) rotate(-90)" font-size="20.3" fill="#595959" textLength="71.2" lengthAdjust="spacingAndGlyphs">FY 2029</text>
<line x1="1221.5" y1="541.0" x2="1221.5" y2="548.0" stroke="#d9d9d9" stroke-width="1"/>
<text transform="translate(1228.9,626.2) rotate(-90)" font-size="20.3" fill="#595959" textLength="71.2" lengthAdjust="spacingAndGlyphs">FY 2030</text>
<text transform="translate(805.50,317.8) scale(0.92,1)" font-size="26.2" font-weight="bold" fill="#595959" stroke="#595959" stroke-width="0.45" textLength="96.96" lengthAdjust="spacing">WATER</text>
<text transform="translate(906.90,317.8) scale(0.92,1)" font-size="26.2" font-weight="bold" fill="#595959" stroke="#595959" stroke-width="0.45" textLength="108.91" lengthAdjust="spacing">UTILITY</text>
<text transform="translate(1019.30,317.8) scale(0.92,1)" font-size="26.2" font-weight="bold" fill="#595959" stroke="#595959" stroke-width="0.45" textLength="162.83" lengthAdjust="spacing">CUSTOMER</text>
<text transform="translate(923.80,354.1) scale(0.92,1)" font-size="26.2" font-weight="bold" fill="#595959" stroke="#595959" stroke-width="0.45" textLength="133.48" lengthAdjust="spacing">GROWTH</text>
<text x="841.5" y="401" font-size="12.4" font-weight="bold" fill="#000" textLength="130" lengthAdjust="spacingAndGlyphs">22% Customer CAGR</text>
<text x="841.5" y="438" font-size="12.4" font-weight="bold" fill="#000" textLength="195" lengthAdjust="spacingAndGlyphs">Avg Customer Annual Revenue</text>
<text x="841.5" y="456.2" font-size="12.4" font-weight="bold" fill="#000" textLength="42.6" lengthAdjust="spacingAndGlyphs">$1,500</text>
<rect x="891.1" y="647.5" width="12.6" height="12.4" fill="#3a63ac"/>
<text x="909.2" y="659.3" font-size="18.4" fill="#595959" textLength="56" lengthAdjust="spacingAndGlyphs">Actual</text>
<rect x="985.3" y="647.5" width="12.6" height="12.4" fill="#8fa2d4"/>
<text x="1003.2" y="659.3" font-size="18.4" fill="#595959" textLength="87" lengthAdjust="spacingAndGlyphs">Projected</text>
<rect x="116.8" y="694.7" width="1150.4" height="2.3" fill="#5a98cf"/>
<text transform="translate(126.9,722.4) scale(1.15,1)" font-size="14.4" font-weight="bold" fill="#2f4f9e" stroke="#2f4f9e" stroke-width="1.0" textLength="249.7" lengthAdjust="spacing">PURE CYCLE CORPORATION</text>
<text x="1204.2" y="719.6" font-size="13.6" fill="#a9dcf0" stroke="#a9dcf0" stroke-width="0.3" textLength="52" lengthAdjust="spacingAndGlyphs">PAGE 12</text>
</svg>
<p class="para">Recurring water and wastewater revenue increased approximately 26% from Q1 2024 to Q1 2026, demonstrating consistent growth in<br>the core utility business. At the same time, tap fee revenue nearly tripled over the same period, reflecting increased development-<br>driven connections. This combination supports a growing recurring base while capturing near-term value from system expansion.</p>
</body></html>
